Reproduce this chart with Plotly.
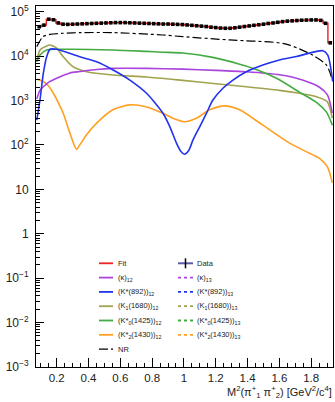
import plotly.graph_objects as go

# ---------------- data ----------------
bin_lo, bin_w = 0.075, 0.03
data_vals = [46000, 50000, 68000, 66000, 56000, 52500, 52000, 52500, 53000, 53500,
             54000, 54500, 55000, 55500, 56000, 56500, 57000, 57000, 57000, 56500,
             56000, 55500, 55000, 54500, 54000, 53500, 53000, 53000, 52500, 52000,
             51500, 50500, 49500, 48500, 47500, 46500, 45000, 44000, 43000, 42500,
             42500, 43500, 45000, 46500, 48000, 49500, 51000, 52500, 54500, 56000,
             58000, 60000, 61500, 62500, 63500, 64500, 65000, 65500, 65500, 64000,
             55000, 20000]
data_x = [bin_lo + bin_w * (i + 0.5) for i in range(len(data_vals))]
fit_vals = list(data_vals)

kappa_x = [0.075, 0.095, 0.116, 0.158, 0.200, 0.283, 0.346, 0.45, 0.553, 0.765,
           0.992, 1.2, 1.392, 1.601, 1.745, 1.852, 1.902, 1.933]
kappa_y = [1100, 1700, 2050, 2700, 3200, 4200, 4500, 5000, 5300, 5300,
           5100, 4800, 4450, 3800, 2900, 2000, 1340, 520]

kst_x = [0.075, 0.095, 0.116, 0.137, 0.158, 0.2, 0.346, 0.451, 0.555, 0.66, 0.765,
         0.869, 0.911, 0.953, 0.98, 1.003, 1.03, 1.057, 1.099, 1.141, 1.182, 1.245,
         1.308, 1.392, 1.496, 1.601, 1.706, 1.873, 1.904, 1.935]
kst_y = [365, 1030, 4100, 9700, 14300, 14300, 9700, 7500, 4900, 2900, 1460,
         513, 260, 110, 72, 62, 75, 130, 257, 513, 1030, 1900,
         2900, 4470, 6300, 8200, 9800, 13300, 10600, 2700]

k1_x = [0.075, 0.095, 0.137, 0.158, 0.200, 0.241, 0.302, 0.388, 0.553, 0.765,
        0.992, 1.2, 1.392, 1.6, 1.726, 1.83, 1.9, 1.933]
k1_y = [7500, 13800, 17000, 17800, 15100, 9700, 5800, 4470, 3780, 3400,
        2850, 2400, 2050, 1700, 1460, 1230, 950, 400]

k0_x = [0.075, 0.095, 0.137, 0.241, 0.553, 0.765, 0.867, 0.992, 1.181, 1.35,
        1.463, 1.588, 1.726, 1.839, 1.896, 1.933]
k0_y = [7500, 10600, 13800, 14300, 13800, 12800, 12300, 11800, 9400, 6600,
        4900, 3100, 1550, 880, 550, 280]

k2_x = [0.075, 0.116, 0.15, 0.179, 0.21, 0.241, 0.283, 0.31, 0.325, 0.345, 0.388,
        0.451, 0.553, 0.66, 0.765, 0.867, 0.93, 1.005, 1.078, 1.162, 1.256, 1.35,
        1.496, 1.664, 1.768, 1.852, 1.902, 1.933]
k2_y = [3040, 2690, 2100, 1460, 900, 520, 185, 100, 80, 100, 170,
        310, 620, 800, 720, 520, 400, 333, 400, 620, 760, 620,
        280, 110, 71, 50, 32, 14]

nr_x = [0.075, 0.114, 0.158, 0.24, 0.346, 0.553, 0.867, 0.992, 1.287, 1.601,
        1.664, 1.808, 1.896, 1.927]
nr_y = [16400, 27500, 31000, 32800, 33900, 33900, 30000, 27500, 23200, 20000,
        17800, 10600, 6300, 3400]

y_tickvals = [1e-3, 1e-2, 1e-1, 1, 10, 1e2, 1e3, 1e4, 1e5]
y_ticktext = ["10<sup>\u22123</sup>", "10<sup>\u22122</sup>", "10<sup>\u22121</sup>", "1", "10",
              "10<sup>2</sup>", "10<sup>3</sup>", "10<sup>4</sup>", "10<sup>5</sup>"]

RED, PURPLE, BLUE = "#ee2222", "#aa44dd", "#2233ee"
OLIVE, GREEN, ORANGE = "#a3a34f", "#44aa44", "#ffa020"

legend_rows = [
    (("Fit", RED, "solid"), ("Data", "data", None)),
    (("(\u03ba)<sub>12</sub>", PURPLE, "solid"), ("(\u03ba)<sub>13</sub>", PURPLE, "dot")),
    (("(K*(892))<sub>12</sub>", BLUE, "solid"), ("(K*(892))<sub>13</sub>", BLUE, "dot")),
    (("(K<sub>1</sub>(1680))<sub>12</sub>", OLIVE, "solid"), ("(K<sub>1</sub>(1680))<sub>13</sub>", OLIVE, "dot")),
    (("(K*<sub>0</sub>(1425))<sub>12</sub>", GREEN, "solid"), ("(K*<sub>0</sub>(1425))<sub>13</sub>", GREEN, "dot")),
    (("(K*<sub>2</sub>(1430))<sub>12</sub>", ORANGE, "solid"), ("(K*<sub>2</sub>(1430))<sub>13</sub>", ORANGE, "dot")),
    (("NR", "black", "dashdot"), None),
]

# ---------------- layout geometry ----------------
W, H = 335, 402
ML, MR, MT, MB = 36, 2, 6, 35
PW, PH = W - ML - MR, H - MT - MB


def px2paper(px, py):
    return (px - ML) / PW, (H - MB - py) / PH


fig = go.Figure()
LW = 1.6
fig.add_trace(go.Scatter(x=nr_x, y=nr_y, mode="lines", line=dict(color="black", width=1.2, dash="dashdot", shape="spline", smoothing=0.8)))
fig.add_trace(go.Scatter(x=k2_x, y=k2_y, mode="lines", line=dict(color=ORANGE, width=LW, shape="spline", smoothing=0.7)))
fig.add_trace(go.Scatter(x=k1_x, y=k1_y, mode="lines", line=dict(color=OLIVE, width=LW, shape="spline", smoothing=0.7)))
fig.add_trace(go.Scatter(x=kappa_x, y=kappa_y, mode="lines", line=dict(color=PURPLE, width=LW, shape="spline", smoothing=0.7)))
fig.add_trace(go.Scatter(x=k0_x, y=k0_y, mode="lines", line=dict(color=GREEN, width=LW, shape="spline", smoothing=0.7)))
fig.add_trace(go.Scatter(x=kst_x, y=kst_y, mode="lines", line=dict(color=BLUE, width=LW, shape="spline", smoothing=0.7)))
fig.add_trace(go.Scatter(x=data_x, y=fit_vals, mode="lines", line=dict(color=RED, width=1.4, shape="hvh")))
fig.add_trace(go.Scatter(x=data_x, y=data_vals, mode="markers",
                         marker=dict(color="black", symbol="square", size=3.6, line=dict(width=0))))

# ---------------- hand-drawn legend (ROOT-style TLegend) ----------------
row_y0, row_dy = 263.3, 14.3
cols = [(99, 113, 116), (178, 193, 195)]
shapes, annots = [], []
for i, row in enumerate(legend_rows):
    py = row_y0 + row_dy * i
    for c, entry in enumerate(row):
        if entry is None:
            continue
        label, color, dash = entry
        x0p, x1p, xtp = cols[c]
        a0 = px2paper(x0p, py)
        a1 = px2paper(x1p, py)
        if color == "data":
            shapes.append(dict(type="line", xref="paper", yref="paper", x0=a0[0], x1=a1[0], y0=a0[1], y1=a1[1],
                               line=dict(color="#5a5aa8", width=2)))
            xm = (x0p + x1p) / 2
            b0 = px2paper(xm, py - 5)
            b1 = px2paper(xm, py + 5)
            shapes.append(dict(type="line", xref="paper", yref="paper", x0=b0[0], x1=b1[0], y0=b0[1], y1=b1[1],
                               line=dict(color="black", width=1.5)))
        else:
            shapes.append(dict(type="line", xref="paper", yref="paper", x0=a0[0], x1=a1[0], y0=a0[1], y1=a1[1],
                               line=dict(color=color, width=1.8 if dash != "dashdot" else 1.2, dash=dash)))
        t = px2paper(xtp, py)
        annots.append(dict(text=label, xref="paper", yref="paper", x=t[0], y=t[1], xanchor="left", yanchor="middle",
                           showarrow=False, font=dict(size=7.5, color="#222", family="Liberation Sans, Arial")))

tpos = px2paper(334, 392)
annots.append(dict(text="M<sup>2</sup>(\u03c0<sup>+</sup><sub>1</sub> \u03c0<sup>+</sup><sub>2</sub>) [GeV<sup>2</sup>/c<sup>4</sup>]",
                   xref="paper", yref="paper", x=tpos[0], y=tpos[1], xanchor="right", yanchor="middle",
                   showarrow=False, font=dict(size=11, color="#222", family="Liberation Sans, Arial")))

fig.update_layout(
    width=W, height=H,
    margin=dict(l=ML, r=MR, t=MT, b=MB, pad=0),
    paper_bgcolor="white", plot_bgcolor="white",
    showlegend=False,
    font=dict(family="Liberation Sans, Arial", size=12, color="#222"),
    shapes=shapes, annotations=annots,
)
fig.update_xaxes(range=[0.07, 1.937], showgrid=False, zeroline=False,
                 showline=True, mirror=True, linecolor="black", linewidth=1,
                 ticks="inside", ticklen=9, tickcolor="black", tick0=0, dtick=0.2,
                 minor=dict(ticks="inside", ticklen=4.5, dtick=0.05, tickcolor="black", showgrid=False),
                 tickfont=dict(size=11.5), ticklabelstandoff=0)
fig.update_yaxes(type="log", range=[-3, 5.13], showgrid=False, zeroline=False,
                 showline=True, mirror=True, linecolor="black", linewidth=1,
                 ticks="inside", ticklen=8, tickcolor="black",
                 tickvals=y_tickvals, ticktext=y_ticktext,
                 minor=dict(ticks="inside", ticklen=4, tickvals=[m * 10 ** e for e in range(-3, 5) for m in range(2, 10)],
                            tickcolor="black", showgrid=False),
                 tickfont=dict(size=12), ticklabelstandoff=4)

fig.write_html("out.html")
